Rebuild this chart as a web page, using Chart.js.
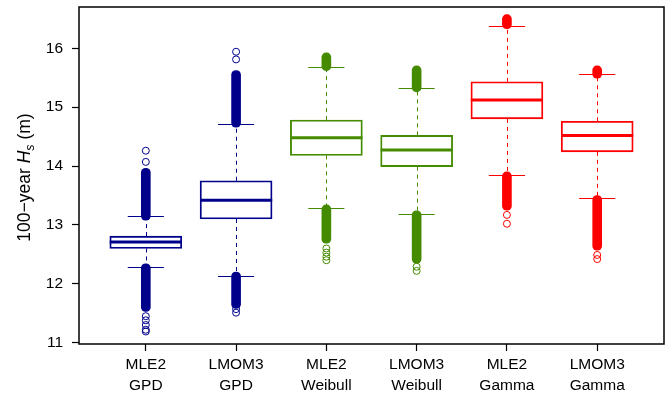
<!DOCTYPE html>
<html>
<head>
<meta charset="utf-8">
<script src="https://cdn.jsdelivr.net/npm/chart.js@4.4.1/dist/chart.umd.min.js"></script>
<style>
  html, body { margin: 0; padding: 0; background: #fff; }
</style>
</head>
<body>
<canvas id="boxChart" width="669" height="394"></canvas>
<script>
// categories (two-line tick labels) and colours per box
const categories = [['MLE2', 'GPD'], ['LMOM3', 'GPD'], ['MLE2', 'Weibull'], ['LMOM3', 'Weibull'], ['MLE2', 'Gamma'], ['LMOM3', 'Gamma']];
const boxColors = ['#00008B', '#00008B', '#458B00', '#458B00', '#FF0000', '#FF0000'];

// box statistics (m)
const q1 = [12.60, 13.10, 14.18, 13.99, 14.80, 14.24];
const median = [12.71, 13.42, 14.48, 14.27, 15.12, 14.52];
const q3 = [12.81, 13.75, 14.78, 14.52, 15.43, 14.76];
const whiskerLow = [12.28, 12.13, 13.28, 13.19, 13.84, 13.45];
const whiskerHigh = [13.15, 14.71, 15.68, 15.33, 16.38, 15.56];

// solid runs of overlapping outliers [from, to]
const denseHigh = [[13.08, 13.96], [14.66, 15.62], [15.62, 15.92], [15.26, 15.70], [16.33, 16.57], [15.49, 15.70]];
const denseLow = [[11.53, 12.34], [11.58, 12.20], [12.69, 13.34], [12.35, 13.24], [13.25, 13.90], [12.57, 13.50]];
// single outliers outside the solid runs
const sparseOutliers = [
  [14.26, 14.07, 11.45, 11.38, 11.30, 11.22, 11.19],
  [15.94, 15.81, 11.57, 11.51],
  [12.60, 12.53, 12.46, 12.40],
  [12.29, 12.22],
  [13.17, 13.02],
  [12.49, 12.42]
];
const yTicks = [11, 12, 13, 14, 15, 16];

const FONT = 'Liberation Sans, Arial, Helvetica, sans-serif';

const scatterPts = [];
const scatterCols = [];
sparseOutliers.forEach((arr, i) => arr.forEach(v => {
  scatterPts.push({ x: i + 1, y: v });
  scatterCols.push(boxColors[i]);
}));

// whiskers, caps, medians, frame and the y title
const boxExtras = {
  id: 'boxExtras',
  beforeDatasetsDraw(chart) {
    const { ctx, scales: { x, y } } = chart;
    ctx.save();
    ctx.lineWidth = 1;
    categories.forEach((c, i) => {
      const px = Math.round(x.getPixelForValue(i + 1)) + 0.5;
      ctx.strokeStyle = boxColors[i];
      ctx.setLineDash([4, 4]);
      ctx.beginPath();
      ctx.moveTo(px, y.getPixelForValue(q3[i]));
      ctx.lineTo(px, y.getPixelForValue(whiskerHigh[i]));
      ctx.moveTo(px, y.getPixelForValue(q1[i]));
      ctx.lineTo(px, y.getPixelForValue(whiskerLow[i]));
      ctx.stroke();
      ctx.setLineDash([]);
      const l = x.getPixelForValue(i + 0.8), r = x.getPixelForValue(i + 1.2);
      ctx.beginPath();
      [whiskerHigh[i], whiskerLow[i]].forEach(v => {
        const py = Math.round(y.getPixelForValue(v)) + 0.5;
        ctx.moveTo(l, py);
        ctx.lineTo(r, py);
      });
      ctx.stroke();
    });
    ctx.restore();
  },
  afterDatasetsDraw(chart) {
    const { ctx, chartArea: a, scales: { x, y } } = chart;
    ctx.save();
    ctx.lineWidth = 3;
    categories.forEach((c, i) => {
      const py = y.getPixelForValue(median[i]);
      ctx.strokeStyle = boxColors[i];
      ctx.beginPath();
      ctx.moveTo(x.getPixelForValue(i + 0.6), py);
      ctx.lineTo(x.getPixelForValue(i + 1.4), py);
      ctx.stroke();
    });
    ctx.lineWidth = 1.5;
    ctx.strokeStyle = '#000';
    ctx.strokeRect(a.left, a.top, a.right - a.left, a.bottom - a.top);

    // y title: 100−year H_s (m)
    const parts = [
      { t: '100\u2212year ', f: '17.5px ' + FONT, dy: 0 },
      { t: 'H', f: 'italic 17.5px ' + FONT, dy: 0 },
      { t: 's', f: 'italic 12.5px ' + FONT, dy: 4 },
      { t: ' (m)', f: '17.5px ' + FONT, dy: 0 }
    ];
    let total = 0;
    parts.forEach(p => { ctx.font = p.f; p.w = ctx.measureText(p.t).width; total += p.w; });
    ctx.translate(30, (a.top + a.bottom) / 2 + 2);
    ctx.rotate(-Math.PI / 2);
    ctx.fillStyle = '#000';
    ctx.textBaseline = 'alphabetic';
    let cx = -total / 2;
    parts.forEach(p => {
      ctx.font = p.f;
      ctx.fillText(p.t, cx, p.dy);
      cx += p.w;
    });
    ctx.restore();
  }
};

const denseSet = (ranges) => ({
  type: 'bar',
  data: ranges.map((r, i) => ({ x: i + 1, y: r })),
  backgroundColor: boxColors,
  borderWidth: 0,
  borderRadius: 4.5,
  borderSkipped: false,
  barThickness: 9,
  grouped: false
});

const noPad = s => { s.paddingTop = 0; s.paddingBottom = 0; s.paddingLeft = 0; s.paddingRight = 0; };

new Chart(document.getElementById('boxChart'), {
  type: 'bar',
  data: {
    datasets: [
      {
        type: 'bar',
        data: categories.map((c, i) => ({ x: i + 1, y: [q1[i], q3[i]] })),
        backgroundColor: 'rgba(255,255,255,0)',
        borderColor: boxColors,
        borderWidth: 1.2,
        borderSkipped: false,
        barThickness: 72,
        grouped: false
      },
      denseSet(denseHigh),
      denseSet(denseLow),
      {
        type: 'scatter',
        data: scatterPts,
        pointRadius: 3.5,
        pointBorderWidth: 1,
        pointBorderColor: scatterCols,
        pointBackgroundColor: 'rgba(255,255,255,0)',
        showLine: false
      }
    ]
  },
  options: {
    responsive: false,
    animation: false,
    devicePixelRatio: 1,
    layout: { padding: { top: 7, right: 4, left: 0, bottom: 0 } },
    plugins: { legend: { display: false }, tooltip: { enabled: false } },
    scales: {
      x: {
        type: 'linear',
        offset: false,
        min: 0.26,
        max: 6.74,
        afterBuildTicks: s => { s.ticks = categories.map((c, i) => ({ value: i + 1 })); },
        afterFit: s => { s.height = 50; noPad(s); },
        ticks: {
          callback: v => categories[v - 1],
          font: { family: FONT, size: 15.5, lineHeight: 1.3 },
          color: '#000',
          padding: 4,
          maxRotation: 0,
          autoSkip: false
        },
        grid: { offset: false, drawOnChartArea: false, tickLength: 7, tickColor: '#000', tickWidth: 1.2 },
        border: { display: false }
      },
      y: {
        min: 10.978,
        max: 16.70,
        afterBuildTicks: s => { s.ticks = yTicks.map(v => ({ value: v })); },
        afterFit: s => { s.width = 79; noPad(s); },
        ticks: {
          font: { family: FONT, size: 15.5 },
          color: '#000',
          padding: 9
        },
        grid: { drawOnChartArea: false, tickLength: 7, tickColor: '#000', tickWidth: 1.2 },
        border: { display: false }
      }
    }
  },
  plugins: [boxExtras]
});
</script>
</body>
</html>
